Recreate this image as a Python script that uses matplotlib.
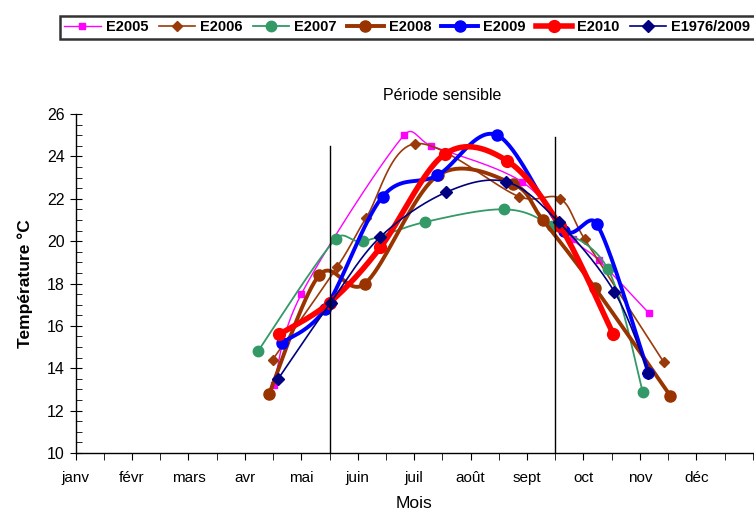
import numpy as np
import matplotlib.pyplot as plt
from matplotlib.ticker import MultipleLocator

plt.rcParams['font.family'] = ['Liberation Sans', 'DejaVu Sans']

# mois (0 = début janvier) et températures relevées
months = ["janv", "févr", "mars", "avr", "mai", "juin", "juil", "août",
          "sept", "oct", "nov", "déc"]

x2005 = [3.51, 4.00, 5.82, 6.30, 7.91, 8.81, 9.27, 10.16]
t2005 = [13.2, 17.5, 25.0, 24.5, 22.8, 20.1, 19.1, 16.6]

x2006 = [3.49, 4.64, 5.15, 6.02, 7.86, 8.59, 9.02, 10.42]
t2006 = [14.4, 18.8, 21.1, 24.6, 22.1, 22.0, 20.1, 14.3]

x2007 = [3.23, 4.61, 5.10, 6.19, 7.60, 8.45, 9.43, 10.05]
t2007 = [14.8, 20.1, 20.0, 20.9, 21.5, 20.7, 18.7, 12.9]

x2008 = [3.43, 4.32, 5.13, 6.42, 7.75, 8.28, 9.20, 10.54]
t2008 = [12.8, 18.4, 18.0, 23.1, 22.7, 21.0, 17.8, 12.7]

x2009 = [3.66, 4.42, 5.44, 6.41, 7.47, 8.65, 9.24, 10.15]
t2009 = [15.2, 16.8, 22.1, 23.1, 25.0, 20.5, 20.8, 13.8]

x2010 = [3.61, 4.50, 5.40, 6.54, 7.64, 8.59, 9.53]
t2010 = [15.6, 17.1, 19.7, 24.1, 23.8, 20.7, 15.6]

xmoy = [3.59, 4.52, 5.40, 6.56, 7.63, 8.56, 9.55, 10.15]
tmoy = [13.5, 17.1, 20.2, 22.3, 22.8, 20.9, 17.6, 13.8]

# bornes de la période sensible (mi-mai -> mi-septembre)
period_x = [4.5, 8.5]
period_top = [24.5, 24.9]

# échelle écran approximative (px par mois, px par °C) pour le lissage
SX, SY = 56.4, 21.2


def smooth(x, y, n=40):
    # courbe lissée : Bézier cubique, tangentes limitées à la demi-corde
    p = np.column_stack([np.asarray(x) * SX, np.asarray(y) * SY])
    p = np.vstack([p[0], p, p[-1]])
    out = []
    t = np.linspace(0, 1, n)[:, None]
    for i in range(1, len(p) - 2):
        a, b = p[i], p[i + 1]
        chord = np.hypot(*(b - a))
        d1 = (p[i + 1] - p[i - 1]) / 6
        d2 = (p[i + 2] - p[i]) / 6
        lim = 0.5 * chord
        if np.hypot(*d1) > lim:
            d1 = d1 * lim / np.hypot(*d1)
        if np.hypot(*d2) > lim:
            d2 = d2 * lim / np.hypot(*d2)
        c1, c2 = a + d1, b - d2
        seg = ((1 - t) ** 3) * a + 3 * ((1 - t) ** 2) * t * c1 \
            + 3 * (1 - t) * t ** 2 * c2 + t ** 3 * b
        out.append(seg)
    s = np.vstack(out)
    return s[:, 0] / SX, s[:, 1] / SY


series = [
    ("E2005", x2005, t2005, "#FF00FF", 1.0, "s", 4),
    ("E2006", x2006, t2006, "#9A3A0A", 1.2, "D", 5),
    ("E2007", x2007, t2007, "#339966", 1.3, "o", 7.5),
    ("E2008", x2008, t2008, "#993300", 2.8, "o", 8),
    ("E2009", x2009, t2009, "#0000FF", 2.8, "o", 8),
    ("E2010", x2010, t2010, "#FF0000", 4.0, "o", 8.5),
    ("E1976/2009", xmoy, tmoy, "#000080", 1.2, "D", 6),
]

fig = plt.figure(figsize=(7.54, 5.2), dpi=100)
ax = fig.add_axes([0.1003, 0.1288, 0.898, 0.652])

handles = []
for name, xs, ts, col, lw, mk, ms in series:
    sx, sy = smooth(xs, ts)
    ax.plot(sx, sy, color=col, lw=lw, solid_capstyle="round")
    ax.plot(xs, ts, ls="none", marker=mk, ms=ms, color=col, mec=col)
    h, = ax.plot([], [], color=col, lw=lw, marker=mk, ms=ms, mec=col)
    handles.append((h, name))

for px, top in zip(period_x, period_top):
    ax.plot([px, px], [10, top], color="black", lw=1.0)

ax.text(6.5, 26.85, "Période sensible", ha="center", va="center",
        fontsize=11.5)

ax.set_xlim(0, 12)
ax.set_ylim(10, 26)
ax.set_xticks(range(12))
ax.set_xticklabels(months, fontsize=11)
ax.xaxis.set_minor_locator(MultipleLocator(0.5))
ax.yaxis.set_major_locator(MultipleLocator(2))
ax.yaxis.set_minor_locator(MultipleLocator(0.5))
ax.tick_params(axis="y", which="major", direction="inout", length=8,
               labelsize=11.5, pad=4)
ax.tick_params(axis="y", which="minor", direction="in", length=4)
ax.tick_params(axis="x", which="both", direction="out", length=5,
               labelsize=11, pad=8)

for side in ("top", "right"):
    ax.spines[side].set_visible(False)
ax.spines["left"].set_linewidth(1.0)
ax.spines["bottom"].set_linewidth(1.0)

ax.set_xlabel("Mois", fontsize=12.5, labelpad=8)
ax.set_ylabel("Température °C", fontsize=12.5, fontweight="bold",
              labelpad=10)

# légende en bandeau, qui déborde à droite de la figure
leg = fig.legend([h for h, _ in handles], [n for _, n in handles],
                 loc="upper left", bbox_to_anchor=(0.079, 0.97),
                 borderaxespad=0, ncol=7, frameon=True, fancybox=False,
                 edgecolor="black", handlelength=2.5, handletextpad=0.35,
                 columnspacing=0.7, borderpad=0.32,
                 prop={"weight": "bold", "size": 10.5})
leg.get_frame().set_linewidth(1.8)

fig.savefig("out.png", dpi=100)
